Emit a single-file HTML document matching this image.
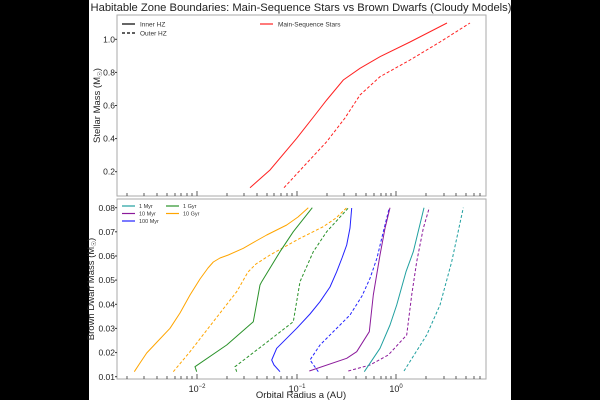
<!DOCTYPE html>
<html><head><meta charset="utf-8"><style>
html,body{margin:0;padding:0;background:#000;}
svg{display:block;font-family:"Liberation Sans","DejaVu Sans",sans-serif;}
</style></head><body>
<svg width="600" height="400" viewBox="0 0 600 400" xmlns="http://www.w3.org/2000/svg">
<rect x="0" y="0" width="600" height="400" fill="#000"/>
<rect x="89" y="0" width="422" height="400" fill="#fff"/>
<text x="301" y="11" font-size="11.2" text-anchor="middle" fill="#222">Habitable Zone Boundaries: Main-Sequence Stars vs Brown Dwarfs (Cloudy Models)</text>

<!-- top axes -->
<rect x="117" y="15" width="369" height="181" fill="none" stroke="#aaa" stroke-width="1"/>
<g stroke="#333" stroke-width="1">
<line x1="115" y1="39.3" x2="117" y2="39.3"/><line x1="115" y1="72.4" x2="117" y2="72.4"/>
<line x1="115" y1="105.5" x2="117" y2="105.5"/><line x1="115" y1="138.6" x2="117" y2="138.6"/>
<line x1="115" y1="171.7" x2="117" y2="171.7"/>
</g>
<g font-size="8.5" fill="#222" text-anchor="end">
<text x="115" y="42.3">1.0</text><text x="115" y="75.4">0.8</text><text x="115" y="108.5">0.6</text><text x="115" y="141.6">0.4</text><text x="115" y="174.7">0.2</text>
</g>
<text transform="translate(100,105.5) rotate(-90)" font-size="9.5" text-anchor="middle" fill="#222">Stellar Mass (M<tspan font-size="6.5" dy="2">☉</tspan><tspan dy="-2">)</tspan></text>
<g id="xt" stroke="#333" stroke-width="0.8">
<line x1="197" y1="196" x2="197" y2="191"/><line x1="297" y1="196" x2="297" y2="191"/><line x1="396" y1="196" x2="396" y2="191"/>
<line x1="127" y1="196" x2="127" y2="193"/><line x1="144" y1="196" x2="144" y2="193"/><line x1="157" y1="196" x2="157" y2="193"/><line x1="167" y1="196" x2="167" y2="193"/><line x1="175" y1="196" x2="175" y2="193"/><line x1="181" y1="196" x2="181" y2="193"/><line x1="187" y1="196" x2="187" y2="193"/><line x1="192" y1="196" x2="192" y2="193"/>
<line x1="227" y1="196" x2="227" y2="193"/><line x1="244" y1="196" x2="244" y2="193"/><line x1="257" y1="196" x2="257" y2="193"/><line x1="267" y1="196" x2="267" y2="193"/><line x1="274" y1="196" x2="274" y2="193"/><line x1="281" y1="196" x2="281" y2="193"/><line x1="287" y1="196" x2="287" y2="193"/><line x1="292" y1="196" x2="292" y2="193"/>
<line x1="327" y1="196" x2="327" y2="193"/><line x1="344" y1="196" x2="344" y2="193"/><line x1="356" y1="196" x2="356" y2="193"/><line x1="366" y1="196" x2="366" y2="193"/><line x1="374" y1="196" x2="374" y2="193"/><line x1="381" y1="196" x2="381" y2="193"/><line x1="386" y1="196" x2="386" y2="193"/><line x1="391" y1="196" x2="391" y2="193"/>
<line x1="426" y1="196" x2="426" y2="193"/><line x1="444" y1="196" x2="444" y2="193"/><line x1="456" y1="196" x2="456" y2="193"/><line x1="466" y1="196" x2="466" y2="193"/><line x1="474" y1="196" x2="474" y2="193"/><line x1="480" y1="196" x2="480" y2="193"/>
</g>
<polyline fill="none" stroke="#f22" stroke-width="1" points="250,187.7 270,170 296.7,138.3 315,115 326.7,100 343.3,80 360,68.3 380,56.7 410,42 447,23"/>
<polyline fill="none" stroke="#f22" stroke-width="1" stroke-dasharray="3,2" points="284,187.7 305,165 326.7,141.7 345,118 360,95 380,76.7 410,60 440,42 470,23"/>
<g font-size="6.5" fill="#333">
<line x1="122" y1="24" x2="135" y2="24" stroke="#000" stroke-width="1.2"/><text x="140" y="26.5">Inner HZ</text>
<line x1="122" y1="33" x2="135" y2="33" stroke="#000" stroke-width="1.2" stroke-dasharray="3,2"/><text x="140" y="35.5">Outer HZ</text>
<line x1="260" y1="24" x2="273" y2="24" stroke="#f22" stroke-width="1.2"/><text x="278" y="26.5">Main-Sequence Stars</text>
</g>

<!-- bottom axes -->
<rect x="117" y="199" width="369" height="180" fill="none" stroke="#aaa" stroke-width="1"/>
<use href="#xt" transform="translate(0,183)"/>
<g stroke="#333" stroke-width="1">
<line x1="115" y1="207.7" x2="117" y2="207.7"/><line x1="115" y1="231.8" x2="117" y2="231.8"/><line x1="115" y1="256" x2="117" y2="256"/><line x1="115" y1="280.1" x2="117" y2="280.1"/><line x1="115" y1="304.3" x2="117" y2="304.3"/><line x1="115" y1="328.4" x2="117" y2="328.4"/><line x1="115" y1="352.6" x2="117" y2="352.6"/><line x1="115" y1="376.7" x2="117" y2="376.7"/>
</g>
<g font-size="8.5" fill="#222" text-anchor="end">
<text x="115" y="210.8">0.08</text><text x="115" y="234.9">0.07</text><text x="115" y="259.1">0.06</text><text x="115" y="283.2">0.05</text><text x="115" y="307.4">0.04</text><text x="115" y="331.5">0.03</text><text x="115" y="355.7">0.02</text><text x="115" y="379.8">0.01</text>
</g>
<g font-size="9" fill="#222" text-anchor="middle">
<text x="197" y="392">10<tspan font-size="6" dy="-4">−2</tspan></text>
<text x="297" y="392">10<tspan font-size="6" dy="-4">−1</tspan></text>
<text x="396" y="392">10<tspan font-size="6" dy="-4">0</tspan></text>
</g>
<text x="301" y="398" font-size="9.5" text-anchor="middle" fill="#222">Orbital Radius a (AU)</text>
<text transform="translate(94,289) rotate(-90)" font-size="9.5" text-anchor="middle" fill="#222">Brown Dwarf Mass (M<tspan font-size="6.5" dy="2">☉</tspan><tspan dy="-2">)</tspan></text>

<g fill="none" stroke-width="1" stroke-linejoin="round">
<polyline stroke="#ffa500" points="134.3,371.7 140,363 146.7,353 158,341 170,328.3 180,313 190,295 200,279 208,268 213.3,262 220,258 228.3,255 243.3,248.3 256,241 266.7,235 286.7,225 298,217 308.3,207.7"/>
<polyline stroke="#ffa500" stroke-dasharray="3,2" points="173.3,371.7 190,351.7 213.3,321.7 236.7,291.7 248,272 256,264 270,255 300,238.3 323.3,226.7 336,218 346.7,207.7"/>
<polyline stroke="#2a922a" points="196.7,371.7 195,366.7 226.7,345 253.3,321.7 260,285 261.7,281.7 280,251.7 293.3,231.7 312.3,207.7"/>
<polyline stroke="#2a922a" stroke-dasharray="3,2" points="236.7,371.7 235,366.7 263.3,345 293.3,321.7 300,281.7 313.3,251.7 326.7,231.7 348.3,208"/>
<polyline stroke="#2222ff" points="280,371.7 274,365 271.7,360 276.7,348.3 296.7,328.3 310,314 320,301.7 330,287 336.7,271.7 342,258 346.7,245 350,228 351.7,208"/>
<polyline stroke="#2222ff" stroke-dasharray="3,2" points="318.3,371.7 310,360 320,345 350,315 362,296 370,278.3 377,258 381.7,238.3 389.3,207.7"/>
<polyline stroke="#8b1a9b" points="309.3,371 346.7,358.3 356.7,351.7 369.3,331.7 373.3,295 380,255 385,228.3 390,207.7"/>
<polyline stroke="#8b1a9b" stroke-dasharray="3,2" points="348.3,371 370,365 388.3,355 406.7,335 411.7,295 416.7,261.7 423.3,228.3 429.3,207.7"/>
<polyline stroke="#20a0a0" points="364.3,371.7 380,348.3 390,325 396.7,305 406,271.7 413.3,251.7 424,207.7"/>
<polyline stroke="#20a0a0" stroke-dasharray="3,2" points="404,371 426.7,335 440,305 451.7,261.7 463.3,207.7"/>
</g>
<g font-size="5.5" fill="#333">
<line x1="122" y1="206" x2="135" y2="206" stroke="#20a0a0" stroke-width="1.2"/><text x="139" y="208">1 Myr</text>
<line x1="122" y1="213.5" x2="135" y2="213.5" stroke="#8b1a9b" stroke-width="1.2"/><text x="139" y="215.5">10 Myr</text>
<line x1="122" y1="221" x2="135" y2="221" stroke="#2222ff" stroke-width="1.2"/><text x="139" y="223">100 Myr</text>
<line x1="166" y1="206" x2="179" y2="206" stroke="#2a922a" stroke-width="1.2"/><text x="183" y="208">1 Gyr</text>
<line x1="166" y1="213.5" x2="179" y2="213.5" stroke="#ffa500" stroke-width="1.2"/><text x="183" y="215.5">10 Gyr</text>
</g>
</svg>
</body></html>
